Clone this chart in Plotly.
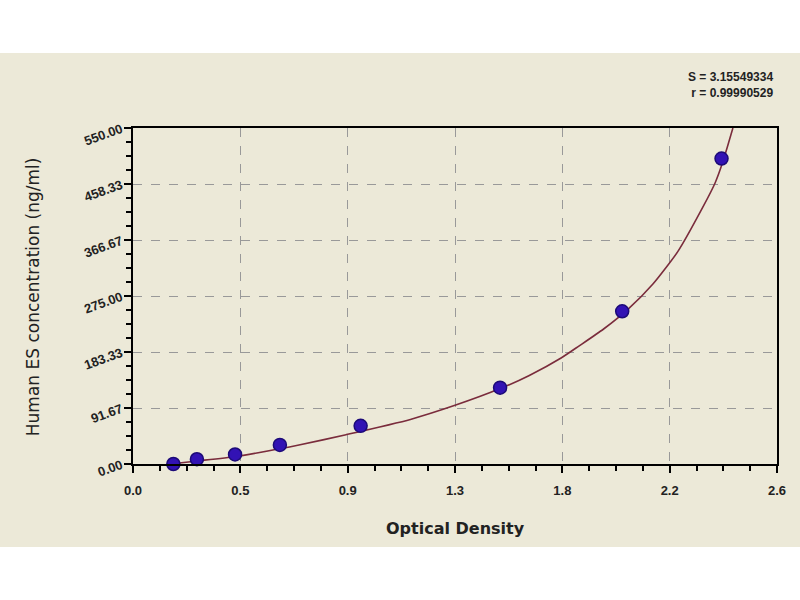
import plotly.graph_objects as go

# standard points
od = [0.163, 0.258, 0.412, 0.593, 0.919, 1.482, 1.975, 2.376]
conc = [0.0, 7.8, 15.6, 31.25, 62.5, 125.0, 250.0, 500.0]

# fitted curve
curve_od = [0.15, 0.26, 0.41, 0.50, 0.67, 0.86, 1.12, 1.30, 1.48, 1.60,
            1.73, 1.80, 1.90, 2.00, 2.10, 2.20, 2.30, 2.35, 2.38, 2.422]
curve_conc = [0, 5, 12, 18, 31, 48, 73, 96, 123, 145,
              174, 193, 221, 254, 295, 348, 420, 460, 493, 550]

x_ticks = [0.0, 2.6 / 6, 2 * 2.6 / 6, 1.3, 4 * 2.6 / 6, 5 * 2.6 / 6, 2.6]
x_labels = ['0.0', '0.5', '0.9', '1.3', '1.8', '2.2', '2.6']
y_ticks = [0, 550 / 6, 2 * 550 / 6, 275, 4 * 550 / 6, 5 * 550 / 6, 550]
y_labels = ['0.00', '91.67', '183.33', '275.00', '366.67', '458.33', '550.00']

fig = go.Figure()

fig.add_trace(go.Scatter(
    x=curve_od, y=curve_conc,
    mode='lines',
    line=dict(color='#7a2c3c', width=1.6, shape='spline', smoothing=0.6),
    showlegend=False, hoverinfo='skip'
))

fig.add_trace(go.Scatter(
    x=od, y=conc,
    mode='markers',
    marker=dict(size=13, color='#3212b4', symbol='circle',
                line=dict(color='#1c0a78', width=1.5)),
    cliponaxis=False,
    showlegend=False
))

# beige panel behind the chart
fig.add_shape(type='rect', xref='paper', yref='paper',
              x0=-0.21, x1=1.21, y0=-0.247, y1=1.223,
              fillcolor='#ece9d8', line=dict(width=0), layer='below')

axis_font = dict(family='Liberation Sans, Arial', size=13, color='#222222', weight='bold')

fig.update_xaxes(
    range=[0, 2.6], tickvals=x_ticks, ticktext=x_labels,
    showline=True, linecolor='black', linewidth=2, mirror=True,
    ticks='outside', ticklen=7, tickwidth=2, tickcolor='black',
    minor=dict(ticks='outside', dtick=2.6 / 24, ticklen=5, tickwidth=2,
               tickcolor='black', showgrid=False),
    showgrid=True, gridcolor='#999999', griddash='dash', gridwidth=1,
    zeroline=False, tickfont=axis_font, ticklabelstandoff=6
)
fig.update_yaxes(
    range=[0, 550], tickvals=y_ticks, ticktext=y_labels, tickangle=-20,
    showline=True, linecolor='black', linewidth=2, mirror=True,
    ticks='outside', ticklen=7, tickwidth=2, tickcolor='black',
    minor=dict(ticks='outside', dtick=550 / 24, ticklen=5, tickwidth=2,
               tickcolor='black', showgrid=False),
    showgrid=True, gridcolor='#999999', griddash='dash', gridwidth=1,
    zeroline=False, tickfont=axis_font
)

fig.add_annotation(text='Optical Density', xref='paper', yref='paper',
                   x=0.5, y=-0.193, showarrow=False, xanchor='center', yanchor='middle',
                   font=dict(family='DejaVu Sans', size=16, color='#222222', weight='bold'))
fig.add_annotation(text='Human ES concentration (ng/ml)', xref='paper', yref='paper',
                   x=-0.155, y=0.497, textangle=-90, showarrow=False,
                   xanchor='center', yanchor='middle',
                   font=dict(family='DejaVu Sans', size=17, color='#222222'))
fig.add_annotation(text='S = 3.15549334<br>r = 0.99990529', xref='paper', yref='paper',
                   x=0.9975, y=1.1265, xanchor='right', yanchor='middle', align='right',
                   showarrow=False,
                   font=dict(family='Liberation Sans, Arial', size=12, color='#222222', weight='bold'))

fig.update_layout(
    width=800, height=600,
    margin=dict(l=133, r=23, t=128, b=136),
    paper_bgcolor='white', plot_bgcolor='white'
)

fig.write_html('out.html', config={'displayModeBar': False},
               post_script="document.body.style.margin='0';")
